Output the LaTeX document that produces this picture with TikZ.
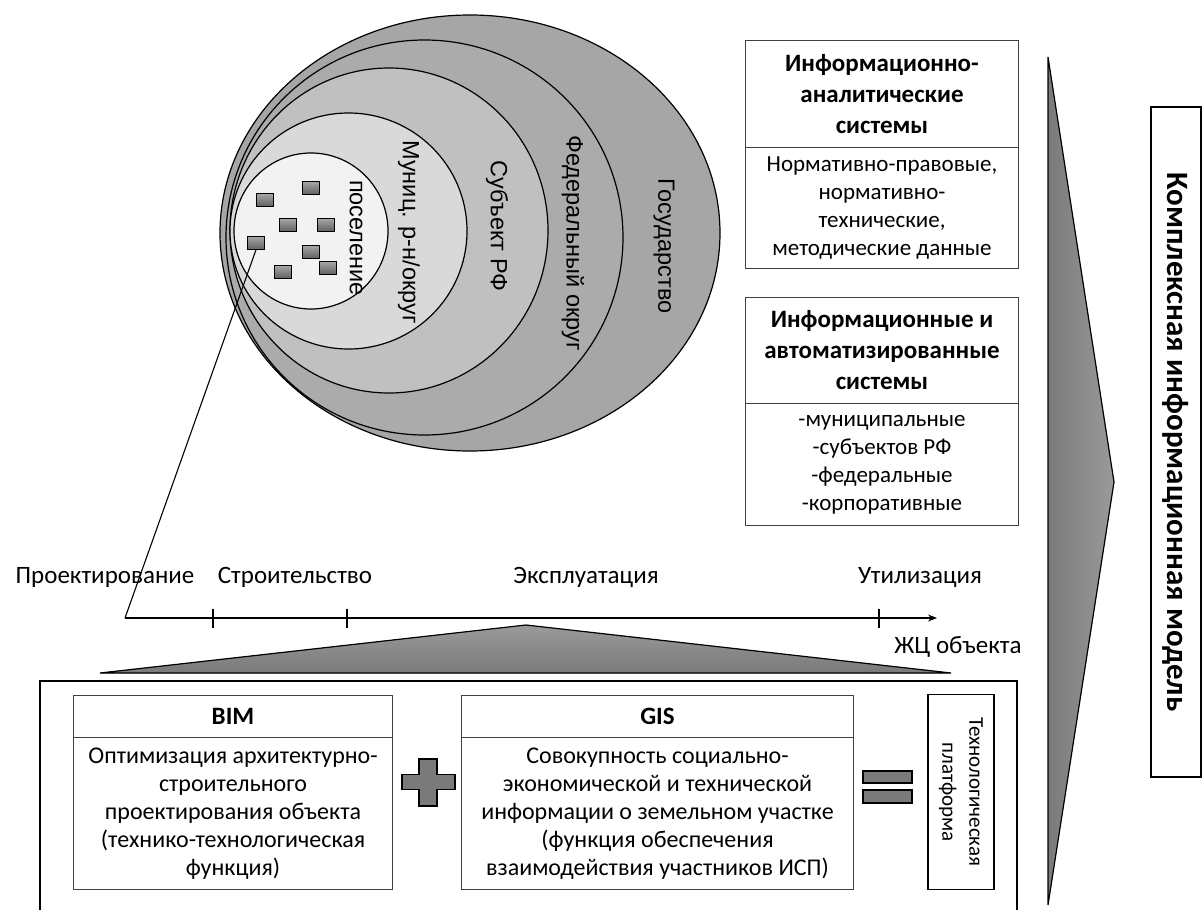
\documentclass[tikz,border=0pt]{standalone}
\usepackage{fontspec}
\setmainfont{Carlito}
\newfontfamily\arialf{Liberation Sans}
\usetikzlibrary{arrows.meta,shapes.geometric}
\definecolor{cGos}{HTML}{A6A6A6}
\definecolor{cFed}{HTML}{ABABAB}
\definecolor{cSub}{HTML}{C0C0C0}
\definecolor{cMun}{HTML}{D9D9D9}
\definecolor{cPos}{HTML}{F2F2F2}
\definecolor{cDark}{HTML}{7A7A7A}
\definecolor{cLight}{HTML}{9A9A9A}
\begin{document}
\begin{tikzpicture}[x=1pt,y=-1pt,
  ring/.style={ellipse,draw=black,line width=1.2pt,inner sep=0pt},
  circtext/.style={rotate=-90,font=\arialf\fontsize{23.5}{27}\selectfont,inner sep=0pt},
  bld/.style={draw=black,line width=1.1pt,minimum width=17pt,minimum height=12.5pt,inner sep=0pt,top color=black!35,bottom color=black!62},
  axlbl/.style={font=\fontsize{25}{29}\selectfont,inner sep=0pt,anchor=base},
  hdr/.style={draw=black!75,line width=1pt,anchor=north west,inner sep=2pt,align=center,font=\fontsize{25}{31}\selectfont\bfseries},
  bdy/.style={draw=black!75,line width=1pt,anchor=north west,inner sep=2pt,align=center,font=\fontsize{23}{28}\selectfont},
  bbdy/.style={bdy,font=\fontsize{24}{28}\selectfont},
  darkfill/.style={draw=black,line width=1.2pt,fill=cDark}
]
\useasboundingbox (0,0) rectangle (1203,910);
\begin{scope}
\clip (0,0) rectangle (1203,910);
% nested circles
\node[ring,fill=cGos,minimum width=500pt,minimum height=436pt] (gos) at (470,233) {};
\node[ring,fill=cFed,minimum width=397pt,minimum height=395pt] (fed) at (424.5,237.5) {};
\node[ring,fill=cSub,minimum width=318pt,minimum height=325pt] (sub) at (389,230.5) {};
\node[ring,fill=cMun,minimum width=237pt,minimum height=236pt] (mun) at (348.5,231) {};
\node[ring,fill=cPos,minimum width=154pt,minimum height=156pt] (pos) at (311,231) {};
\node[circtext] (tGos) at (664,246) {Государство};
\node[circtext] (tFed) at (573,243) {Федеральный округ};
\node[circtext] (tSub) at (497,226) {Субъект РФ};
\node[circtext] (tMun) at (409,232) {Муниц. р-н/округ};
\node[circtext] (tPos) at (356,238) {поселение};
% buildings
\node[bld] (r1) at (311,188) {};
\node[bld] (r2) at (265,200) {};
\node[bld] (r3) at (288,225) {};
\node[bld] (r4) at (326,225) {};
\node[bld] (r5) at (256,243) {};
\node[bld] (r6) at (311,252) {};
\node[bld] (r7) at (328,268) {};
\node[bld] (r8) at (283,272) {};
% life cycle axis
\coordinate (ax0) at (125,618);
\coordinate (ax1) at (937,618);
\draw[line width=1.1pt] (r5.south) -- (ax0);
\draw[line width=1.1pt,-{Stealth[length=9pt,width=7pt]}] (ax0) -- (ax1);
\foreach \tx in {213,347,879} \draw[line width=1.1pt] (\tx,609) -- (\tx,628);
\node[axlbl] (lPr) at (105,583) {Проектирование};
\node[axlbl] (lSt) at (295,583) {Строительство};
\node[axlbl] (lEx) at (586,583) {Эксплуатация};
\node[axlbl] (lUt) at (920,583) {Утилизация};
\node[axlbl] (lZh) at (958,653) {ЖЦ объекта};
% bottom triangle
\filldraw[draw=black,line width=1.2pt,top color=cLight,bottom color=cDark] (100,673) -- (526,625) -- (951,673) -- cycle;
% bottom frame
\draw[line width=1.2pt] (40,681) rectangle (1017,930);
% BIM
\node[hdr,minimum width=319pt,minimum height=42pt] (bimH) at (73,695) {BIM};
\node[bbdy,minimum width=319pt,minimum height=152pt] (bimB) at (73,737) {Оптимизация архитектурно-\\строительного\\проектирования объекта\\(технико-технологическая\\функция)};
% plus
\filldraw[darkfill] (419,759) -- (437,759) -- (437,774.5) -- (455,774.5) -- (455,789.5) -- (437,789.5) -- (437,806) -- (419,806) -- (419,789.5) -- (402,789.5) -- (402,774.5) -- (419,774.5) -- cycle;
% GIS
\node[hdr,minimum width=392pt,minimum height=42pt] (gisH) at (461,695) {GIS};
\node[bbdy,minimum width=392pt,minimum height=152pt] (gisB) at (461,737) {Совокупность социально-\\экономической и технической\\информации о земельном участке\\(функция обеспечения\\взаимодействия участников ИСП)};
% equals
\filldraw[darkfill] (863,771) rectangle (912,783);
\filldraw[darkfill] (863,790) rectangle (912,803);
% technological platform
\node[draw=black,line width=1.1pt,minimum width=195pt,minimum height=66pt,rotate=-90,align=center,font=\fontsize{21}{27}\selectfont,inner sep=0pt] (tech) at (961,792) {Технологическая\\платформа};
% right boxes
\node[hdr,minimum width=273pt,minimum height=107pt] (iaH) at (745,40) {Информационно-\\аналитические\\системы};
\node[bdy,minimum width=273pt,minimum height=121pt] (iaB) at (745,147) {Нормативно-правовые,\\нормативно-\\технические,\\методические данные};
\node[hdr,minimum width=273pt,minimum height=106pt] (asH) at (745,297) {Информационные и\\автоматизированные\\системы};
\node[bdy,minimum width=273pt,minimum height=122pt] (asB) at (745,403) {-муниципальные\\-субъектов РФ\\-федеральные\\-корпоративные};
% big chevron
\filldraw[draw=black,line width=1.2pt,left color=cDark,right color=cLight] (1048,57) -- (1114,482) -- (1048,905) -- cycle;
% model box
\node[draw=black,line width=1.2pt,minimum width=670pt,minimum height=50pt,rotate=-90,font=\fontsize{31}{34}\selectfont\bfseries,inner sep=0pt] (model) at (1176,442) {Комплексная информационная модель};
\end{scope}
\end{tikzpicture}
\end{document}
